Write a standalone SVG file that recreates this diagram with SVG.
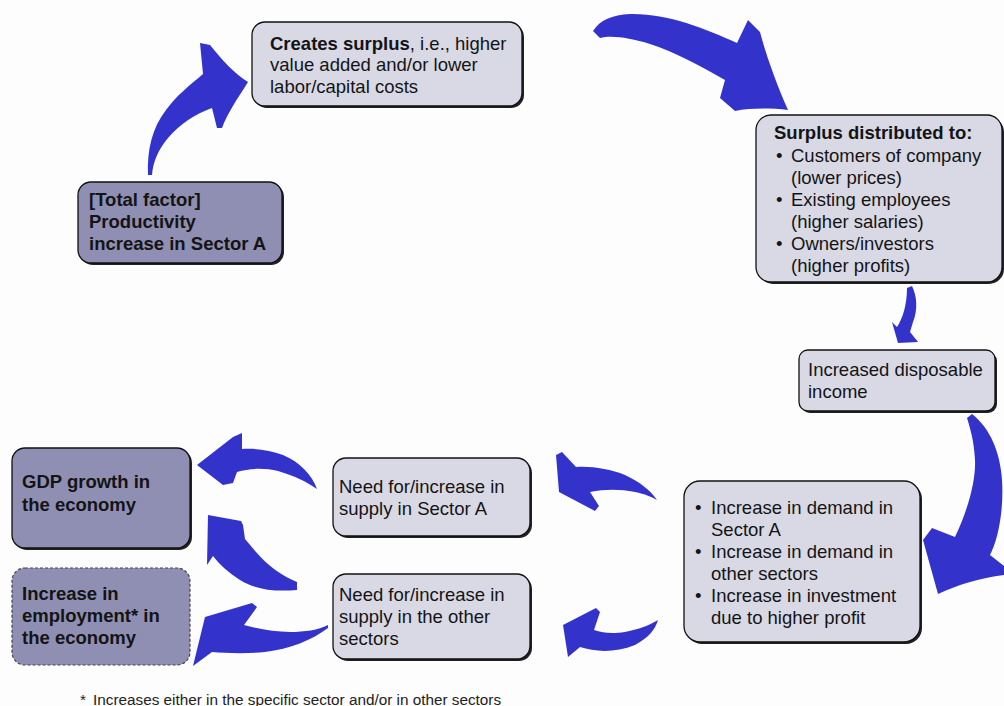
<svg xmlns="http://www.w3.org/2000/svg" width="1004" height="706" viewBox="0 0 1004 706">
<style>
.box{stroke:#111;stroke-width:1.3}
.light{fill:#d9d9e5}
.dark{fill:#8f8fb3}
.shadow{fill:#222}
.t{font-family:"Liberation Sans",Arial,sans-serif;font-size:18.5px;fill:#141414}
.b{font-weight:bold}
.arrow{fill:#3333cc}
.foot{font-family:"Liberation Sans",Arial,sans-serif;font-size:15.3px;fill:#222}
</style>
<rect width="1004" height="706" fill="#fdfdfd"/>
<g id="connectors">
<path class="arrow" d="M148,175 C147,150 152,128 166,110 C176,96 190,85 203,74 L200,43 L210,45 C222,60 235,74 248,82 C238,98 228,112 222,128 L217,128 L212,108 C195,114 180,124 168,138 C158,150 153,162 152,175 Z"/>
<path class="arrow" d="M593,31 C600,20 612,15 630,14 C665,13 705,28 737,43 L748,20 L760,32 C767,58 777,85 788,110 C770,108 750,108 735,111 L720,98 L725,80 C700,66 675,52 650,44 C630,38 612,35 600,38 Z"/>
<path class="arrow" d="M907,288 L912,286 C917,296 918,310 913,322 L910,332 C913,336 916,339 918,342 L898,343 L892,322 L897,327 C903,318 907,304 907,288 Z"/>
<path class="arrow" d="M967,418 L972,414 C990,428 1000,452 1002,480 C1004,510 998,540 990,555 L1004,566 L1004,575 C980,578 957,585 938,594 L923,540 L932,528 L955,537 C968,510 976,480 975,460 C974,440 970,428 967,418 Z"/>
<path class="arrow" d="M657,500 C650,490 640,482 625,475 C610,469 592,466 576,467 L562,452 L556,455 L559,492 L595,511 L599,506 L590,492 C605,489 620,489 635,492 C645,494 652,497 657,500 Z"/>
<path class="arrow" d="M658,620 C650,625 640,629 625,632 C612,634 603,633 594,630 L600,612 L596,608 L563,625 L568,657 L580,647 C595,652 615,653 635,645 C648,638 655,630 658,620 Z"/>
<path class="arrow" d="M317,489 C312,475 300,462 283,455 C270,450 255,448 242,449 L242,433 L233,437 L197,465 L223,485 L233,483 L237,472 C250,468 265,468 278,471 C295,476 307,482 317,489 Z"/>
<path class="arrow" d="M297,582 C282,576 268,566 256,552 L245,539 L243,525 L241,521 L208,515 L207,565 L213,556 C220,565 228,572 240,580 C255,589 272,592 297,590 Z"/>
<path class="arrow" d="M328,625 C318,630 305,632 290,632 C275,632 258,629 244,625 L257,607 L252,603 L205,617 L193,666 L212,652 C225,653 245,654 265,652 C290,649 312,640 328,628 Z"/>
</g>
<g id="node-surplus">
<rect class="shadow" x="254" y="24" width="270" height="84" rx="13"/>
<rect class="box light" x="252" y="22" width="270" height="84" rx="13"/>
<text class="t" x="270" y="50"><tspan class="b">Creates surplus</tspan>, i.e., higher</text>
<text class="t" x="270" y="71">value added and/or lower</text>
<text class="t" x="270" y="93">labor/capital costs</text>
</g>
<g id="node-productivity">
<rect class="shadow" x="80" y="184" width="204" height="81" rx="13"/>
<rect class="box dark" x="78" y="182" width="204" height="81" rx="13"/>
<text class="t b" x="89" y="206">[Total factor]</text>
<text class="t b" x="89" y="228">Productivity</text>
<text class="t b" x="89" y="250">increase in Sector A</text>
</g>
<g id="node-distributed">
<rect class="shadow" x="758" y="117" width="246" height="167" rx="15"/>
<rect class="box light" x="756" y="115" width="246" height="167" rx="15"/>
<text class="t b" x="774" y="139">Surplus distributed to:</text>
<text class="t" x="776" y="162">•</text><text class="t" x="791" y="162">Customers of company</text>
<text class="t" x="791" y="184">(lower prices)</text>
<text class="t" x="776" y="206">•</text><text class="t" x="791" y="206">Existing employees</text>
<text class="t" x="791" y="228">(higher salaries)</text>
<text class="t" x="776" y="250">•</text><text class="t" x="791" y="250">Owners/investors</text>
<text class="t" x="791" y="272">(higher profits)</text>
</g>
<g id="node-income">
<rect class="shadow" x="801" y="352" width="196" height="61" rx="9"/>
<rect class="box light" x="799" y="350" width="196" height="61" rx="9"/>
<text class="t" x="808" y="376">Increased disposable</text>
<text class="t" x="808" y="398">income</text>
</g>
<g id="node-demand">
<rect class="shadow" x="686" y="483" width="236" height="161" rx="16"/>
<rect class="box light" x="684" y="481" width="236" height="161" rx="16"/>
<text class="t" x="695" y="514">•</text><text class="t" x="711" y="514">Increase in demand in</text>
<text class="t" x="711" y="536">Sector A</text>
<text class="t" x="695" y="558">•</text><text class="t" x="711" y="558">Increase in demand in</text>
<text class="t" x="711" y="580">other sectors</text>
<text class="t" x="695" y="602">•</text><text class="t" x="711" y="602">Increase in investment</text>
<text class="t" x="711" y="624">due to higher profit</text>
</g>
<g id="node-supplyA">
<rect class="shadow" x="335" y="460" width="197" height="78" rx="13"/>
<rect class="box light" x="333" y="458" width="197" height="78" rx="13"/>
<text class="t" x="339" y="493">Need for/increase in</text>
<text class="t" x="339" y="515">supply in Sector A</text>
</g>
<g id="node-supplyOther">
<rect class="shadow" x="335" y="576" width="197" height="85" rx="13"/>
<rect class="box light" x="333" y="574" width="197" height="85" rx="13"/>
<text class="t" x="339" y="601">Need for/increase in</text>
<text class="t" x="339" y="623">supply in the other</text>
<text class="t" x="339" y="645">sectors</text>
</g>
<g id="node-gdp">
<rect class="shadow" x="14" y="450" width="178" height="100" rx="13"/>
<rect class="box dark" x="12" y="448" width="178" height="100" rx="13"/>
<text class="t b" x="22" y="488">GDP growth in</text>
<text class="t b" x="22" y="511">the economy</text>
</g>
<g id="node-employment">
<rect class="dark" x="12" y="568" width="178" height="97" rx="13" stroke="#444" stroke-width="1.2" stroke-dasharray="3,2"/>
<text class="t b" x="22" y="600">Increase in</text>
<text class="t b" x="22" y="622">employment* in</text>
<text class="t b" x="22" y="644">the economy</text>
</g>
<text class="foot" x="80" y="705">*<tspan x="93">Increases either in the specific sector and/or in other sectors</tspan></text>
</svg>
